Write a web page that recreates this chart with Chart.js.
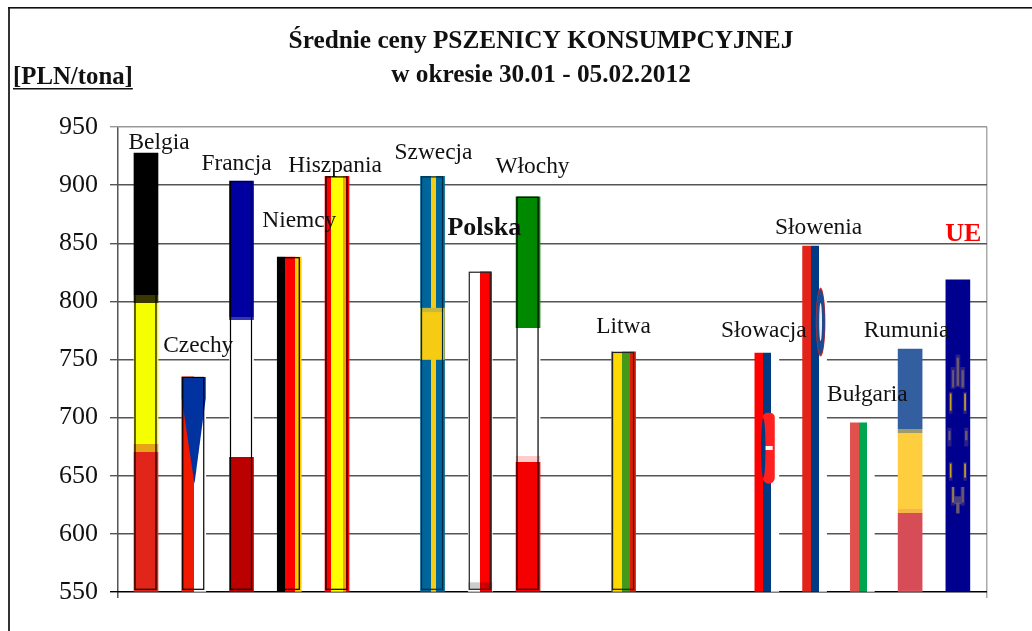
<!DOCTYPE html>
<html><head><meta charset="utf-8">
<style>html,body{margin:0;padding:0;background:#fff}canvas{display:block}</style>
<script src="https://cdn.jsdelivr.net/npm/chart.js@4"></script>
</head><body>
<canvas id="c" width="1032" height="631"></canvas>
<script>
const categories = ['Belgia','Czechy','Francja','Niemcy','Hiszpania','','Szwecja','Polska','Włochy','','Litwa','','','Słowacja','Słowenia','Bułgaria','Rumunia','UE'];
const prices = [927.5,735,903.5,838,907.5,null,907.5,825.5,890,null,756.5,null,null,755.5,847.5,695.5,759,818.5];
const titleLines = ['Średnie ceny PSZENICY KONSUMPCYJNEJ','w okresie 30.01 - 05.02.2012'];
const unitLabel = '[PLN/tona]';

const SERIF = '"Liberation Serif","Times New Roman",serif';
const flags = {
  'Belgia':   {dir:'v',stops:[[.323,'#000000'],[.342,'#3a3800'],[.663,'#f6ff00'],[.681,'#e5a516'],[1,'#e2251a']]},
  'Czechy':   {dir:'h',stops:[[.5,'#f01a00'],[1,'#ffffff']]},
  'Francja':  {dir:'v',stops:[[.33,'#0000a0'],[.339,'#3636b0'],[.671,'#ffffff'],[1,'#bb0000']]},
  'Niemcy':   {dir:'h',stops:[[.32,'#000000'],[.75,'#ff0000'],[1,'#ffcc00']]},
  'Hiszpania':{dir:'h',stops:[[.25,'#ff0000'],[.75,'#ffff00'],[.875,'#f5a000'],[1,'#ff0000']]},
  'Szwecja':  {dir:'h',stops:[[.42,'#006699'],[.63,'#f5cb14'],[1,'#006699']]},
  'Polska':   {dir:'h',stops:[[.5,'#ffffff'],[.98,'#ff0000'],[1,'#ffffff']]},
  'Włochy':   {dir:'v',stops:[[.333,'#008800'],[.656,'#ffffff'],[.671,'#ffcccc'],[1,'#f50000']]},
  'Litwa':    {dir:'h',stops:[[.04,'#6b6a20'],[.42,'#ffd800'],[.75,'#449a18'],[1,'#d81e05']]},
  'Słowacja': {dir:'h',stops:[[.33,'#ff0000'],[.69,'#003a80'],[1,'#ffffff']]},
  'Słowenia': {dir:'h',stops:[[.33,'#e2231a'],[.70,'#003a84'],[1,'#ffffff']]},
  'Bułgaria': {dir:'h',stops:[[.345,'#e2504e'],[.69,'#00a550'],[1,'#ffffff']]},
  'Rumunia':  {dir:'v',stops:[[.329,'#335e9f'],[.346,'#9c9a6e'],[.658,'#ffce3e'],[.675,'#f5b54a'],[.99,'#d64d58'],[1,'#e2555e']]},
  'UE':       {dir:'v',stops:[[1,'#00008f']]}
};
const outlined = {'Belgia':'#000','Czechy':'#000','Francja':'#000','Niemcy':'#000','Hiszpania':'#000','Szwecja':'#002a40','Polska':'#222','Włochy':'#000','Litwa':'#222'};
const labelStyle = {
  'Belgia':[13,-4],'Czechy':[4.5,-25],'Francja':[-5,-11],'Niemcy':[10,-30],'Hiszpania':[-2,-4],
  'Szwecja':[1,-17],'Polska':[4,-37,'bold','#111'],'Włochy':[4.5,-24],'Litwa':[0,-19],
  'Słowacja':[-3,-16],'Słowenia':[4,-12],'Bułgaria':[5,-22],'Rumunia':[-3.5,-12],'UE':[5.5,-39,'bold','#ff0000']
};
const BAR_W = 24;

function barFill(ctx){
  const name = categories[ctx.dataIndex], fl = flags[name];
  if(!fl) return 'rgba(0,0,0,0)';
  const ch = ctx.chart, xs = ch.scales.x, ys = ch.scales.y;
  if(!xs || !ys) return '#000';
  const cx = xs.getPixelForValue(ctx.dataIndex), top = ys.getPixelForValue(prices[ctx.dataIndex]), base = ys.getPixelForValue(ys.min);
  if(![cx,top,base].every(Number.isFinite)) return '#000';
  const g = fl.dir==='h'
    ? ch.ctx.createLinearGradient(cx-BAR_W/2,0,cx+BAR_W/2,0)
    : ch.ctx.createLinearGradient(0,top,0,base);
  let prev = 0;
  fl.stops.forEach(([p,col])=>{ g.addColorStop(prev,col); g.addColorStop(p,col); prev = p; });
  return g;
}

const emblems = {
  'Czechy'(c,P){
    c.fillStyle='#0033a0'; c.beginPath();
    c.moveTo(...P(0,0)); c.lineTo(...P(1,0)); c.lineTo(...P(1,.1)); c.lineTo(...P(.53,.5)); c.lineTo(...P(0,.1)); c.closePath(); c.fill();
  },
  'Szwecja'(c,P){
    const a=P(0,.317), b=P(1,.442), m=P(0,.327);
    c.fillStyle='#f5cb14'; c.fillRect(a[0],a[1],b[0]-a[0],b[1]-a[1]);
    c.fillStyle='#c9b83f'; c.fillRect(a[0],a[1],b[0]-a[0],m[1]-a[1]);
  },
  'Polska'(c,P){
    const a=P(0,.972), b=P(1,.994);
    c.fillStyle='rgba(0,0,0,.2)'; c.fillRect(a[0],a[1],b[0]-a[0],b[1]-a[1]);
  },
  'Słowacja'(c,P){
    const a=P(.29,.25), b=P(.83,.548), w=b[0]-a[0], h=b[1]-a[1];
    c.filter='blur(0.6px)';
    c.fillStyle='#ff2020'; c.beginPath(); c.roundRect(a[0]+1,a[1],w-1,h,[5,5,6,6]); c.fill();
    c.fillStyle='#003a80'; c.beginPath(); c.ellipse(a[0]+1.5,a[1]+h/2,2.2,h*.42,0,0,7); c.fill();
    const k=P(.45,.39); c.fillStyle='#ffffff'; c.fillRect(k[0],k[1],7,4);
  },
  'Słowenia'(c,P){
    const o=P(.75,.22), r=P(.95,.32), ru=r[0]-o[0], rv=r[1]-o[1];
    c.filter='blur(0.6px)';
    c.fillStyle='#e2231a'; c.beginPath(); c.ellipse(o[0],o[1],ru,rv,0,0,7); c.fill();
    c.fillStyle='#1c4a90'; c.beginPath(); c.ellipse(o[0],o[1],ru-.5,rv-2,0,0,7); c.fill();
    c.fillStyle='#e8eef6'; c.beginPath(); c.ellipse(o[0],o[1],ru*.3,rv*.55,0,0,7); c.fill();
  },
  'UE'(c,P){
    const H='#2a2088', G='#6a5a70', Y='#c9a020';
    const stars=[[.5,.24,.2,.105,H],[.3,.28,.2,.07,H],[.7,.28,.2,.07,H],[.5,.25,.1,.09,G],[.3,.29,.08,.055,G],[.7,.29,.1,.055,G],
      [.2,.36,.15,.07,H],[.8,.36,.15,.07,H],[.2,.365,.07,.055,Y],[.8,.365,.07,.055,Y],
      [.15,.475,.17,.06,H],[.85,.475,.17,.06,H],[.15,.485,.08,.03,G],[.85,.485,.1,.03,G],
      [.2,.585,.15,.06,H],[.8,.585,.15,.06,H],[.2,.59,.07,.045,Y],[.8,.59,.07,.045,Y],
      [.3,.665,.18,.06,H],[.7,.665,.18,.06,H],[.3,.665,.08,.05,'#9a8040'],[.7,.665,.1,.05,G],[.5,.695,.32,.025,'#4a4080'],[.5,.715,.14,.035,G]];
    stars.forEach(([u,v,du,dv,col])=>{ const a=P(u-du/2,v), b=P(u+du/2,v+dv); c.fillStyle=col; c.fillRect(a[0],a[1],b[0]-a[0],b[1]-a[1]); });
  }
};

const flagDetails = {
  id:'flagDetails',
  afterDatasetsDraw(ch){
    const c = ch.ctx, meta = ch.getDatasetMeta(0);
    categories.forEach((name,i)=>{
      if(!name) return;
      const el = meta.data[i], L = el.x-el.width/2, T = el.y, H = el.base-el.y;
      const P = (u,v)=>[L+u*el.width, T+v*H];
      c.save();
      if(emblems[name]) emblems[name](c,P);
      c.filter='none';
      if(outlined[name]){
        c.strokeStyle = outlined[name]; c.lineWidth = 1.2;
        c.strokeRect(L+1, T+.5, el.width-3, H-2.5);
      }
      c.restore();
    });
  }
};
const extras = {
  id:'extras',
  beforeDraw(ch){
    const c = ch.ctx;
    c.save();
    c.fillStyle='#fff'; c.fillRect(0,0,ch.width,ch.height);
    c.fillStyle='#333'; c.fillRect(8,7,2,ch.height-7);
    c.fillStyle='#111'; c.fillRect(8,7,ch.width-8,1.6);
    c.restore();
  },
  afterDatasetsDraw(ch){
    const c = ch.ctx, meta = ch.getDatasetMeta(0);
    c.save();
    c.textAlign='center'; c.textBaseline='alphabetic';
    categories.forEach((name,i)=>{
      if(!name) return;
      const st = labelStyle[name], el = meta.data[i];
      c.font = st[2] ? st[2]+' 26px '+SERIF : 'normal 23.4px '+SERIF;
      c.fillStyle = st[3]||'#111';
      c.fillText(name, el.x+st[0], el.y+st[1]);
    });
    c.font='bold 24.8px '+SERIF; c.fillStyle='#111'; c.textAlign='left';
    c.fillText(unitLabel,13,84);
    const w=c.measureText(unitLabel).width;
    c.fillRect(13,88,w,1.5);
    c.restore();
  }
};

new Chart(document.getElementById('c'),{
  type:'bar',
  data:{datasets:[{
    label:'Średnie ceny',
    data:categories.map((n,i)=>({x:i,y:prices[i]})),
    backgroundColor:barFill,
    borderWidth:0,
    base:550,
    barThickness:BAR_W
  }]},
  plugins:[extras,flagDetails],
  options:{
    responsive:false,animation:false,
    layout:{padding:{left:50,right:0,top:0,bottom:33}},
    plugins:{
      legend:{display:false},tooltip:{enabled:false},
      title:{display:true,text:titleLines,color:'#111',
        font:{family:SERIF,size:25.3,weight:'bold',lineHeight:'34px'},
        padding:{top:24,bottom:35}}
    },
    scales:{
      x:{type:'linear',offset:false,min:-0.586,max:17.61,
        afterBuildTicks(s){s.ticks=[{value:s.min},{value:s.max}];},
        afterFit(s){s.height=6;},
        ticks:{display:false},
        border:{display:false},
        grid:{offset:false,drawTicks:true,tickLength:6,lineWidth:1.5,
          color:(x)=>x.index===0?'#555555':'#aaaaaa'}
      },
      y:{min:550,max:950,
        afterFit(s){s.width=68;},
        ticks:{stepSize:50,padding:12,color:'#111',font:{family:SERIF,size:26}},
        border:{display:false},
        grid:{tickLength:8,lineWidth:1.4,
          color:(x)=>x.tick&&x.tick.value===550?'#000000':(x.tick&&x.tick.value===950?'#999999':'#555555')}
      },
      gutter:{position:'right',min:0,max:1,
        afterFit(s){s.width=45;},
        ticks:{display:false},
        border:{display:false},
        grid:{display:false,drawTicks:false}
      }
    }
  }
});
</script>
</body></html>
